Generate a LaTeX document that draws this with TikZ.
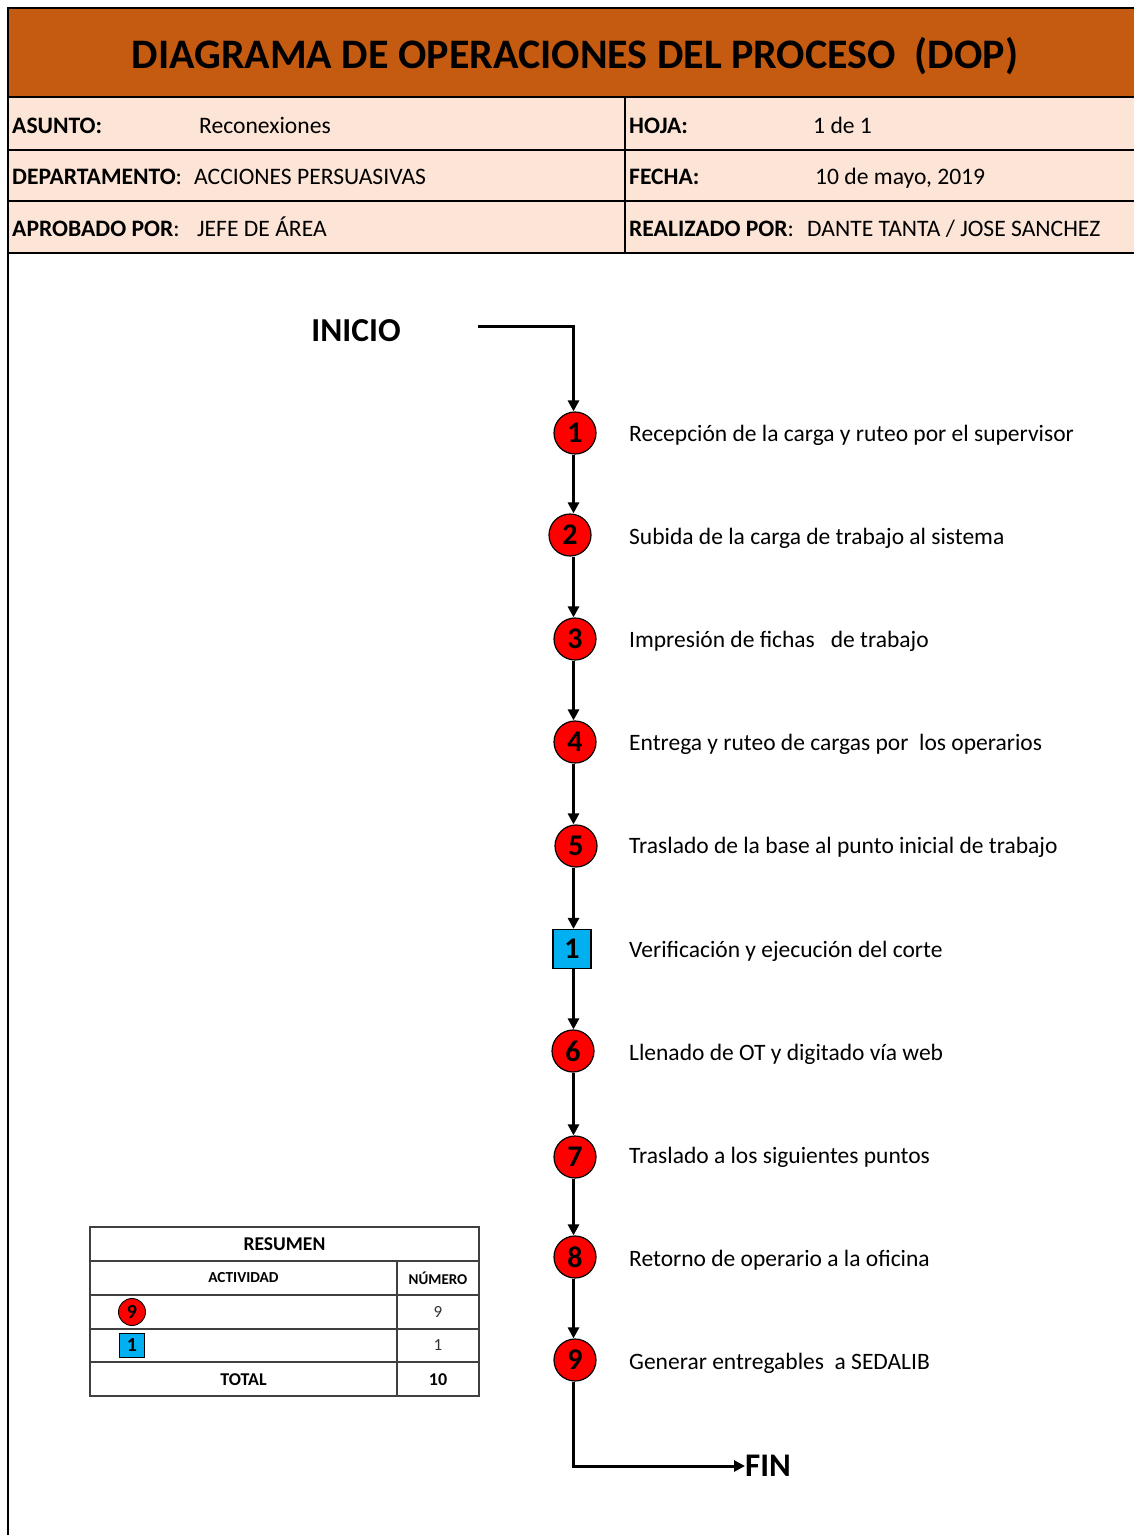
\documentclass[tikz,border=0pt]{standalone}
\usepackage{fontspec}
\setmainfont{Carlito}
\usetikzlibrary{arrows.meta}
\definecolor{hdrorange}{HTML}{C55A11}
\definecolor{hdrpeach}{HTML}{FCE4D6}
\definecolor{opred}{HTML}{FF0000}
\definecolor{insblue}{HTML}{00B0F0}
\definecolor{tblgray}{HTML}{404040}
\tikzset{
  op/.style={circle, draw=black, line width=1.2pt, fill=opred, minimum size=42pt, inner sep=0pt, font=\fontsize{30}{30}\selectfont\bfseries},
  insp/.style={rectangle, draw=black, line width=1.2pt, fill=insblue, minimum width=38pt, minimum height=39pt, inner sep=0pt, font=\fontsize{30}{30}\selectfont\bfseries},
  sop/.style={circle, draw=black, line width=0.9pt, fill=opred, minimum size=27pt, inner sep=0pt, font=\fontsize{20}{20}\selectfont\bfseries},
  sinsp/.style={rectangle, draw=black, line width=0.9pt, fill=insblue, minimum width=25pt, minimum height=24pt, inner sep=0pt, font=\fontsize{20}{20}\selectfont\bfseries},
  lbl/.style={anchor=base west, inner sep=0pt, font=\fontsize{23.5}{23.5}\selectfont},
  hk/.style={anchor=base west, inner sep=0pt, font=\fontsize{23.6}{23.6}\selectfont},
  arr/.style={line width=3pt, -{Triangle[length=11pt,width=11pt]}},
  tcell/.style={inner sep=0pt},
  tline/.style={tblgray, line width=1.3pt}
}
\begin{document}
\begin{tikzpicture}[x=1pt,y=-1pt]
\useasboundingbox (0,0) rectangle (1134,1535);
\fill[white] (0,0) rectangle (1134,1535);
% header
\fill[hdrorange] (8,8) rectangle (1134,97);
\fill[hdrpeach] (8,97) rectangle (1134,253);
\draw[line width=2pt] (1134,8) -- (8,8) -- (8,1535);
\draw[line width=2pt] (8,97) -- (1134,97);
\draw[line width=2pt] (8,150) -- (1134,150);
\draw[line width=2pt] (8,201) -- (1134,201);
\draw[line width=2pt] (8,253) -- (1134,253);
\draw[line width=2pt] (625,97) -- (625,253);
\node[inner sep=0pt, font=\fontsize{42}{42}\selectfont\bfseries] (title) at (575,56) {DIAGRAMA DE OPERACIONES DEL PROCESO\ \ (DOP)};
\node[hk] (k1) at (12,133) {\textbf{ASUNTO:}};
\node[hk] (v1) at (199,133) {Reconexiones};
\node[hk] (k2) at (629,133) {\textbf{HOJA:}};
\node[hk] (v2) at (813,133) {1 de 1};
\node[hk] (k3) at (12,184) {\textbf{DEPARTAMENTO}:};
\node[hk] (v3) at (194,184) {ACCIONES PERSUASIVAS};
\node[hk] (k4) at (629,184) {\textbf{FECHA:}};
\node[hk] (v4) at (815,184) {10 de mayo, 2019};
\node[hk] (k5) at (12,236) {\textbf{APROBADO POR}:};
\node[hk] (v5) at (197,236) {JEFE DE ÁREA};
\node[hk] (k6) at (629,236) {\textbf{REALIZADO POR}:};
\node[hk] (v6) at (807,236) {DANTE TANTA / JOSE SANCHEZ};
% flow
\node[inner sep=0pt, font=\fontsize{33.5}{33.5}\selectfont\bfseries] (inicio) at (356,331) {INICIO};
\coordinate (start) at (478,326);
\coordinate (spine) at (573.5,0);
\node[op] (c1) at (575,433) {1};
\node[op] (c2) at (570,535) {2};
\node[op] (c3) at (575,639) {3};
\node[op] (c4) at (575,742) {4};
\node[op] (c5) at (576,846) {5};
\node[insp] (q1) at (572,949) {1};
\node[op] (c6) at (573,1051) {6};
\node[op] (c7) at (575,1157) {7};
\node[op] (c8) at (575,1257) {8};
\node[op] (c9) at (575,1360) {9};
\node[inner sep=0pt, anchor=west, font=\fontsize{33}{33}\selectfont\bfseries] (fin) at (745,1466) {FIN};
\node[lbl] (l1) at (629,441) {Recepción de la carga y ruteo por el supervisor};
\node[lbl] (l2) at (629,544) {Subida de la carga de trabajo al sistema};
\node[lbl] (l3) at (629,647) {Impresión de fichas\ \ \ de trabajo};
\node[lbl] (l4) at (629,750) {Entrega y ruteo de cargas por\ \ los operarios};
\node[lbl] (l5) at (629,853) {Traslado de la base al punto inicial de trabajo};
\node[lbl] (l6) at (629,957) {Verificación y ejecución del corte};
\node[lbl] (l7) at (629,1060) {Llenado de OT y digitado vía web};
\node[lbl] (l8) at (629,1163) {Traslado a los siguientes puntos};
\node[lbl] (l9) at (629,1266) {Retorno de operario a la oficina};
\node[lbl] (l10) at (629,1369) {Generar entregables\ \ a SEDALIB};
\draw[arr] (start) -| (c1.north -| spine);
\draw[arr] (c1.south -| spine) -- (c2.north -| spine);
\draw[arr] (c2.south -| spine) -- (c3.north -| spine);
\draw[arr] (c3.south -| spine) -- (c4.north -| spine);
\draw[arr] (c4.south -| spine) -- (c5.north -| spine);
\draw[arr] (c5.south -| spine) -- (q1.north -| spine);
\draw[arr] (q1.south -| spine) -- (c6.north -| spine);
\draw[arr] (c6.south -| spine) -- (c7.north -| spine);
\draw[arr] (c7.south -| spine) -- (c8.north -| spine);
\draw[arr] (c8.south -| spine) -- (c9.north -| spine);
\draw[arr] (c9.south -| spine) |- (fin.west);
% summary table
\draw[tline] (90,1227) rectangle (479,1396);
\draw[tline] (90,1261) -- (479,1261);
\draw[tline] (90,1295) -- (479,1295);
\draw[tline] (90,1329) -- (479,1329);
\draw[tline] (90,1362) -- (479,1362);
\draw[tline] (397,1261) -- (397,1396);
\node[tcell, font=\fontsize{19.5}{19.5}\selectfont\bfseries] (tres) at (284.5,1244) {RESUMEN};
\node[tcell, font=\fontsize{15.3}{15.3}\selectfont\bfseries] (tact) at (243.5,1278) {ACTIVIDAD};
\node[tcell, font=\fontsize{15}{15}\selectfont\bfseries] (tnum) at (438,1278) {NÚMERO};
\node[sop] (s9) at (132,1312) {9};
\node[tcell, font=\fontsize{17}{17}\selectfont, text=black!80] (n9) at (438,1312) {9};
\node[sinsp] (s1) at (132,1345) {1};
\node[tcell, font=\fontsize{17}{17}\selectfont, text=black!80] (n1) at (438,1345) {1};
\node[tcell, font=\fontsize{18}{18}\selectfont\bfseries] (ttot) at (243.5,1380) {TOTAL};
\node[tcell, font=\fontsize{18}{18}\selectfont\bfseries] (tten) at (438,1380) {10};
\end{tikzpicture}
\end{document}
